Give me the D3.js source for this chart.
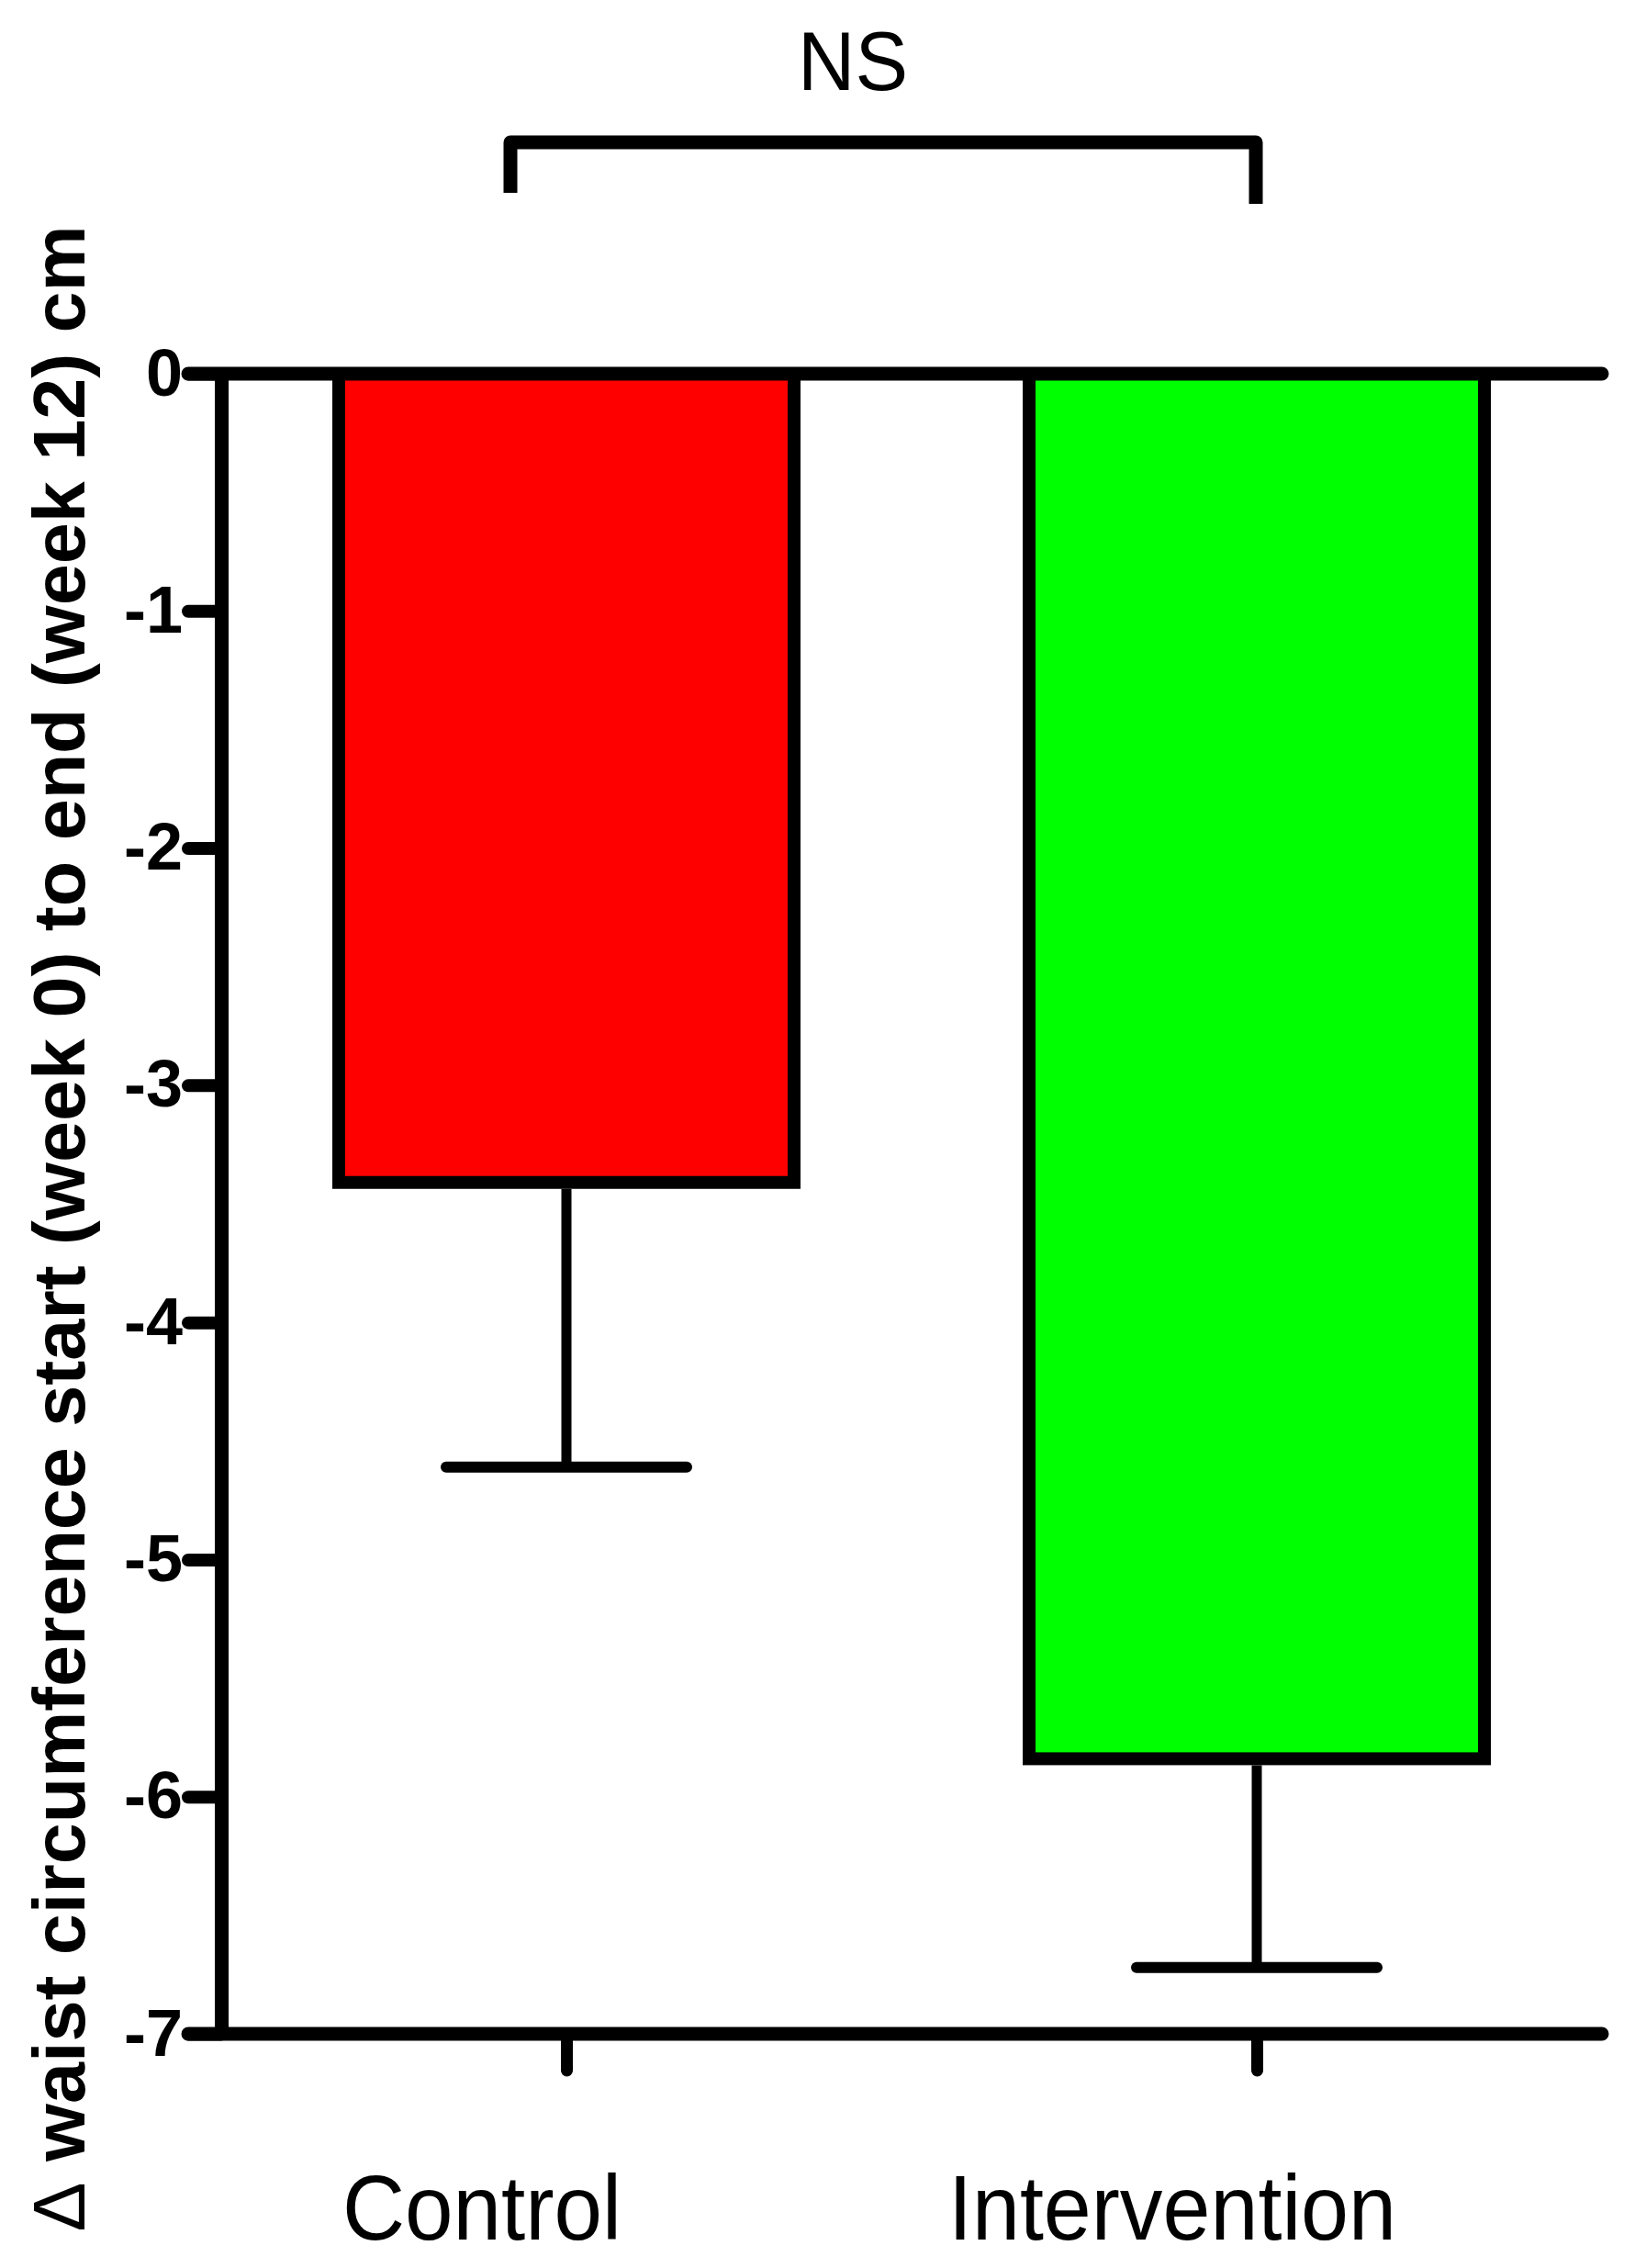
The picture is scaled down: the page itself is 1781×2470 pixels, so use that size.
<!DOCTYPE html>
<html>
<head>
<meta charset="utf-8">
<script src="https://cdn.jsdelivr.net/npm/d3@7"></script>
<style>
  html, body { margin: 0; padding: 0; background: #fff; }
  svg { display: block; }
</style>
</head>
<body>
<svg id="chart"></svg>
<script>
// data
const groups = ["Control", "Intervention"];
const means = [-3.41, -5.84];
const errors = [1.20, 0.88];
const barColours = ["#ff0000", "#00ff00"];
const yTicks = [0, -1, -2, -3, -4, -5, -6, -7];
const yLabelSymbol = "\u0394";
const yLabel = " waist circumference start (week 0) to end (week 12) cm";
const sigLabel = "NS";

(function(){

  const width = 1781, height = 2470;
  const axisX = 241, rightX = 1745;
  const font = "Arial, 'Liberation Sans', sans-serif";

  const svg = d3.select("#chart")
    .attr("width", width)
    .attr("height", height);

  svg.append("rect")
    .attr("width", width)
    .attr("height", height)
    .attr("fill", "#fff");

  // scales
  const yScale = d3.scaleLinear().domain([0, -7]).range([407, 2215]);
  const xScale = d3.scalePoint().domain(groups).range([axisX, rightX]).padding(0.5);
  const barWidth = 496;

  const data = groups.map((g, i) => ({group: g, mean: means[i], err: errors[i], colour: barColours[i]}));

  // bars
  svg.selectAll(".bar")
    .data(data)
    .enter()
    .append("rect")
      .attr("class", "bar")
      .attr("x", d => xScale(d.group) - barWidth / 2)
      .attr("y", yScale(0))
      .attr("width", barWidth)
      .attr("height", d => yScale(d.mean) - yScale(0))
      .attr("fill", d => d.colour)
      .attr("stroke", "#000")
      .attr("stroke-width", 14);

  // error bars (downward only)
  const errG = svg.selectAll(".err")
    .data(data)
    .enter()
    .append("g")
      .attr("class", "err");

  errG.append("line")
    .attr("x1", d => xScale(d.group))
    .attr("x2", d => xScale(d.group))
    .attr("y1", d => yScale(d.mean) + 7)
    .attr("y2", d => yScale(d.mean - d.err))
    .attr("stroke", "#000")
    .attr("stroke-width", 11);

  errG.append("line")
    .attr("x1", d => xScale(d.group) - 131)
    .attr("x2", d => xScale(d.group) + 131)
    .attr("y1", d => yScale(d.mean - d.err))
    .attr("y2", d => yScale(d.mean - d.err))
    .attr("stroke", "#000")
    .attr("stroke-width", 12)
    .attr("stroke-linecap", "round");

  // y axis
  const yAxis = d3.axisLeft(yScale)
    .tickValues(yTicks)
    .tickFormat(d3.format("d"))
    .tickSize(36)
    .tickSizeOuter(0)
    .tickPadding(6);

  const yG = svg.append("g")
    .attr("transform", "translate(" + axisX + ",0)")
    .call(yAxis);

  yG.select(".domain")
    .attr("stroke", "#000")
    .attr("stroke-width", 15);
  yG.selectAll(".tick line")
    .attr("stroke", "#000")
    .attr("stroke-width", 14)
    .attr("stroke-linecap", "round");
  yG.selectAll(".tick text")
    .attr("fill", "#000")
    .style("font", "bold 72px " + font)
    .text(d => d === 0 ? "0" : "-" + Math.abs(d));

  // zero line and bottom axis line across the plot
  svg.append("line")
    .attr("x1", axisX - 36).attr("x2", rightX)
    .attr("y1", yScale(0)).attr("y2", yScale(0))
    .attr("stroke", "#000")
    .attr("stroke-width", 15)
    .attr("stroke-linecap", "round");

  svg.append("line")
    .attr("x1", axisX - 36).attr("x2", rightX)
    .attr("y1", yScale(-7)).attr("y2", yScale(-7))
    .attr("stroke", "#000")
    .attr("stroke-width", 15)
    .attr("stroke-linecap", "round");

  // x axis ticks + labels
  const xAxis = d3.axisBottom(xScale)
    .tickSize(40)
    .tickSizeOuter(0)
    .tickFormat("");

  const xG = svg.append("g")
    .attr("transform", "translate(0," + yScale(-7) + ")")
    .call(xAxis);

  xG.select(".domain").remove();
  xG.selectAll(".tick line")
    .attr("stroke", "#000")
    .attr("stroke-width", 13)
    .attr("stroke-linecap", "round");

  const labelWidths = {"Control": 304, "Intervention": 488};
  svg.selectAll(".xlabel")
    .data(groups)
    .enter()
    .append("text")
      .attr("class", "xlabel")
      .attr("x", d => xScale(d) - 92)
      .attr("y", 2439)
      .attr("text-anchor", "middle")
      .attr("textLength", d => labelWidths[d])
      .attr("lengthAdjust", "spacingAndGlyphs")
      .style("font", "100px " + font)
      .attr("fill", "#000")
      .text(d => d);

  // y axis title (delta drawn in normal weight like the original)
  const yTitle = svg.append("text")
    .attr("transform", "translate(92,1338) rotate(-90)")
    .attr("text-anchor", "middle")
    .attr("textLength", 2185)
    .attr("lengthAdjust", "spacingAndGlyphs")
    .style("font", "bold 80px " + font)
    .attr("fill", "#000");

  yTitle.append("tspan")
    .style("font-weight", "normal")
    .text(yLabelSymbol);
  yTitle.append("tspan")
    .text(yLabel);

  // significance bracket
  const bx1 = 556, bx2 = 1368, by = 155;
  svg.append("path")
    .attr("d", "M" + bx1 + ",210 L" + bx1 + "," + by + " L" + bx2 + "," + by + " L" + bx2 + ",222")
    .attr("fill", "none")
    .attr("stroke", "#000")
    .attr("stroke-width", 15)
    .attr("stroke-linejoin", "round");

  svg.append("text")
    .attr("x", 929)
    .attr("y", 98)
    .attr("text-anchor", "middle")
    .attr("textLength", 120)
    .attr("lengthAdjust", "spacingAndGlyphs")
    .style("font", "90px " + font)
    .attr("fill", "#000")
    .text(sigLabel);

})();
</script>
</body>
</html>
